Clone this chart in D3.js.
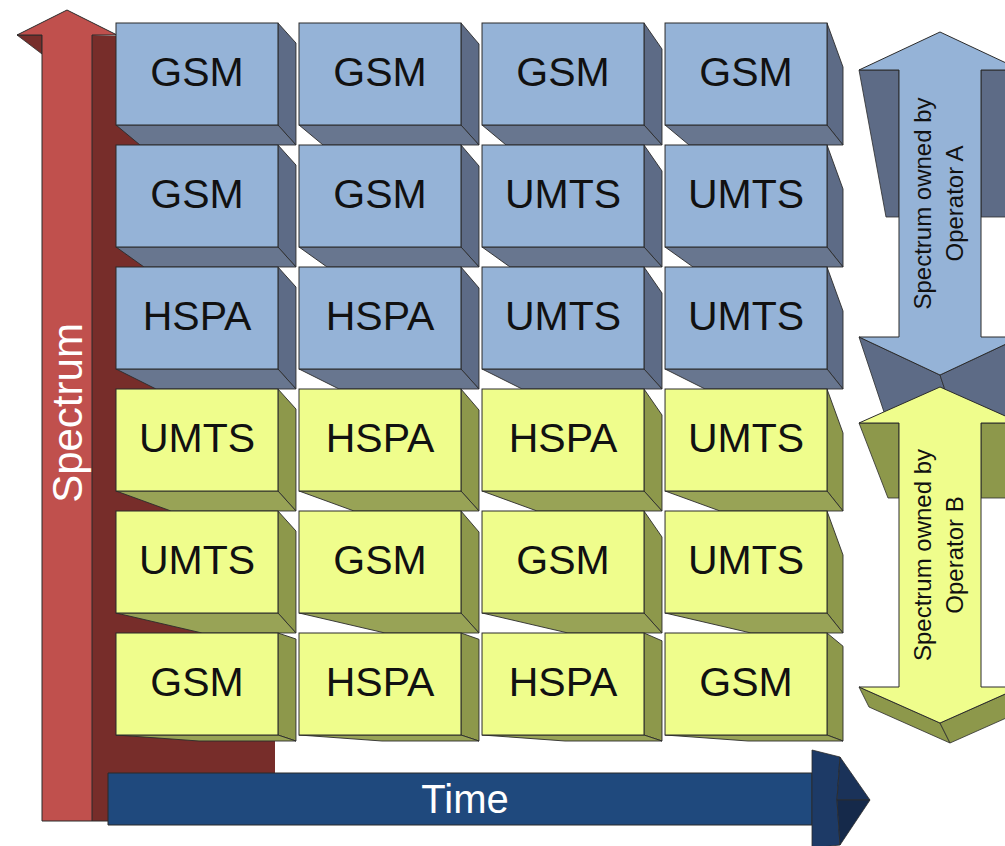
<!DOCTYPE html>
<html>
<head>
<meta charset="utf-8">
<script src="https://cdn.jsdelivr.net/npm/d3@7"></script>
<style>
  body { margin: 0; background: #fff; }
  svg { display: block; }
</style>
</head>
<body>
<svg id="chart" width="1005" height="846"></svg>
<script>
// Data
var timeSlots = ["T1", "T2", "T3", "T4"];
var spectrumBands = ["F1", "F2", "F3", "F4", "F5", "F6"];
var bandOperator = ["A", "A", "A", "B", "B", "B"];
var allocation = [
    ["GSM",  "GSM",  "GSM",  "GSM"],
    ["GSM",  "GSM",  "UMTS", "UMTS"],
    ["HSPA", "HSPA", "UMTS", "UMTS"],
    ["UMTS", "HSPA", "HSPA", "UMTS"],
    ["UMTS", "GSM",  "GSM",  "UMTS"],
    ["GSM",  "HSPA", "HSPA", "GSM"]
];
var operators = ["A", "B"];
var operatorLabels = [["Spectrum owned by", "Operator A"], ["Spectrum owned by", "Operator B"]];
var axisLabels = { spectrum: "Spectrum", time: "Time" };

// Style
var style = {
    font: "'Liberation Sans', Arial, sans-serif",
    stroke: "#2b2b2b",
    gridX: [116, 827],
    gridY: [23, 735],
    // perspective depth of every box, per row / per column
    depthX: [24, 28, 40, 55, 86, 83],
    depthY: [20, 20, 20, 20, 20, 6],
    sideW: [18, 18, 18, 16],
    sideSlope: [1, 1.05, 1.3, 2.2],
    palette: {
        A: { front: "#95b3d7", side: "#5d6b86", bottom: "#68768f" },
        B: { front: "#effd8c", side: "#8d984b", bottom: "#98a356" }
    },
    red: { front: "#c0504d", dark: "#772d2a" },
    blue: { front: "#1f497d", head: "#1d3a66", headTop: "#1a3259", headBottom: "#15294a" },
    opArrow: {
        cx: 940, halfHead: 81, halfShaft: 41,
        A: { top: 32, bottom: 375, head: 38, wingDepth: 147, wingSlant: 27, tail: [25, 75] },
        B: { top: 387, bottom: 723, head: 36, wingDepth: 75, wingSlant: 29, tail: [10, 20] }
    }
};

var svg = d3.select("#chart");

var x = d3.scaleBand().domain(timeSlots).range(style.gridX).paddingInner(0.115).paddingOuter(0);
var y = d3.scaleBand().domain(spectrumBands).range(style.gridY).paddingInner(0.164).paddingOuter(0);

var line = function(pts) { return "M" + pts.map(function(p) { return p.join(","); }).join("L") + "Z"; };

// Spectrum arrow (red, 3D)
var redLayer = svg.append("g");
redLayer.append("path")
    .attr("d", line([[92, 35], [117, 36], [117, 52], [275, 52], [275, 773], [108, 773], [108, 821], [92, 821]]))
    .attr("fill", style.red.dark);
redLayer.append("path")
    .attr("d", line([[17, 35], [42, 35], [42, 54]]))
    .attr("fill", style.red.dark)
    .attr("stroke", style.stroke).attr("stroke-width", 0.8);
redLayer.append("path")
    .attr("d", line([[42, 821], [42, 35], [17, 35], [67, 10], [117, 35], [92, 35], [92, 821]]))
    .attr("fill", style.red.front)
    .attr("stroke", style.stroke).attr("stroke-width", 1);
redLayer.append("line")
    .attr("x1", 92).attr("y1", 821).attr("x2", 108).attr("y2", 821)
    .attr("stroke", style.stroke);
redLayer.append("text")
    .attr("transform", "translate(82,413) rotate(-90)")
    .attr("text-anchor", "middle")
    .attr("font-family", style.font)
    .attr("font-size", 42)
    .attr("fill", "#fff")
    .text(axisLabels.spectrum);

// Cells
var cells = [];
spectrumBands.forEach(function(band, r) {
    timeSlots.forEach(function(slot, c) {
        cells.push({ r: r, c: c, band: band, slot: slot, tech: allocation[r][c], op: bandOperator[r] });
    });
});

var cellGroup = svg.append("g");
var cell = cellGroup.selectAll("g.cell").data(cells).enter().append("g").attr("class", "cell");

function geom(d) {
    var x0 = x(d.slot), x1 = x0 + x.bandwidth();
    var y0 = y(d.band), y1 = y0 + y.bandwidth();
    var sx = style.sideW[d.c], ey = style.depthY[d.r], ex = style.depthX[d.r];
    var sy = Math.min(ey * style.sideSlope[d.c], 48);
    return { x0: x0, x1: x1, y0: y0, y1: y1, sx: sx, ey: ey, ex: ex, sy: sy };
}

cell.append("path")
    .attr("d", function(d) {
        var g = geom(d);
        return line([[g.x1, g.y0], [g.x1 + g.sx, g.y0 + g.sy], [g.x1 + g.sx, g.y1 + g.ey], [g.x1, g.y1]]);
    })
    .attr("fill", function(d) { return style.palette[d.op].side; })
    .attr("stroke", style.stroke).attr("stroke-width", 0.9);

cell.append("path")
    .attr("d", function(d) {
        var g = geom(d);
        return line([[g.x0, g.y1], [g.x1, g.y1], [g.x1 + g.sx, g.y1 + g.ey], [g.x0 + g.ex, g.y1 + g.ey]]);
    })
    .attr("fill", function(d) { return style.palette[d.op].bottom; })
    .attr("stroke", style.stroke).attr("stroke-width", 0.9);

cell.append("rect")
    .attr("x", function(d) { return x(d.slot); })
    .attr("y", function(d) { return y(d.band); })
    .attr("width", x.bandwidth())
    .attr("height", y.bandwidth())
    .attr("fill", function(d) { return style.palette[d.op].front; })
    .attr("stroke", style.stroke).attr("stroke-width", 1);

cell.append("text")
    .attr("x", function(d) { return x(d.slot) + x.bandwidth() / 2; })
    .attr("y", function(d) { return y(d.band) + y.bandwidth() / 2 + 12; })
    .attr("text-anchor", "middle")
    .attr("font-family", style.font)
    .attr("font-size", 41)
    .attr("fill", "#111")
    .text(function(d) { return d.tech; });

// Operator double arrows
var opLayer = svg.append("g");
operators.forEach(function(op, i) {
    var a = style.opArrow, o = a[op], cx = a.cx, col = style.palette[op];
    var hh = a.halfHead, hs = a.halfShaft;
    var baseTop = o.top + o.head, baseBot = o.bottom - o.head;
    var g = opLayer.append("g");

    // extrusion of the lower head
    var t = o.tail;
    g.append("path")
        .attr("d", line([[cx - hh, baseBot], [cx, o.bottom], [cx + t[0], o.bottom + t[1]], [cx - hh + t[0], baseBot + t[1]]]))
        .attr("fill", col.side).attr("stroke", style.stroke).attr("stroke-width", 0.8);
    g.append("path")
        .attr("d", line([[cx, o.bottom], [cx + hh, baseBot], [cx + hh + t[0], baseBot + t[1]], [cx + t[0], o.bottom + t[1]]]))
        .attr("fill", col.side).attr("stroke", style.stroke).attr("stroke-width", 0.8);

    // wing undersides of the upper head
    g.append("path")
        .attr("d", line([[cx - hh, baseTop], [cx - hs, baseTop], [cx - hs, baseTop + o.wingDepth], [cx - hh + o.wingSlant, baseTop + o.wingDepth]]))
        .attr("fill", col.side).attr("stroke", style.stroke).attr("stroke-width", 0.8);
    g.append("path")
        .attr("d", line([[cx + hs, baseTop], [cx + hh, baseTop], [cx + hh, baseTop + o.wingDepth], [cx + hs, baseTop + o.wingDepth]]))
        .attr("fill", col.side).attr("stroke", style.stroke).attr("stroke-width", 0.8);

    g.append("path")
        .attr("d", line([
            [cx, o.top], [cx + hh, baseTop], [cx + hs, baseTop], [cx + hs, baseBot], [cx + hh, baseBot],
            [cx, o.bottom], [cx - hh, baseBot], [cx - hs, baseBot], [cx - hs, baseTop], [cx - hh, baseTop]
        ]))
        .attr("fill", col.front).attr("stroke", style.stroke).attr("stroke-width", 1);

    var midY = (o.top + o.bottom) / 2;
    var txt = g.append("text")
        .attr("transform", "translate(" + cx + "," + midY + ") rotate(-90)")
        .attr("text-anchor", "middle")
        .attr("font-family", style.font)
        .attr("font-size", 24)
        .attr("fill", "#111");
    txt.selectAll("tspan").data(operatorLabels[i]).enter().append("tspan")
        .attr("x", 0)
        .attr("y", function(d, k) { return k === 0 ? -9 : 23; })
        .text(function(d) { return d; });
});

// Time arrow (blue, 3D head)
var timeLayer = svg.append("g");
timeLayer.append("path")
    .attr("d", line([[108, 773], [812, 773], [812, 825], [108, 825]]))
    .attr("fill", style.blue.front).attr("stroke", style.stroke).attr("stroke-width", 1);
timeLayer.append("path")
    .attr("d", line([[812, 750], [840, 757], [837, 800], [840, 845], [812, 848]]))
    .attr("fill", style.blue.head).attr("stroke", style.stroke).attr("stroke-width", 0.8);
timeLayer.append("path")
    .attr("d", line([[840, 757], [870, 800], [837, 800]]))
    .attr("fill", style.blue.headTop).attr("stroke", style.stroke).attr("stroke-width", 0.8);
timeLayer.append("path")
    .attr("d", line([[837, 800], [870, 800], [840, 845]]))
    .attr("fill", style.blue.headBottom).attr("stroke", style.stroke).attr("stroke-width", 0.8);
timeLayer.append("text")
    .attr("x", 465).attr("y", 813)
    .attr("text-anchor", "middle")
    .attr("font-family", style.font)
    .attr("font-size", 40)
    .attr("fill", "#fff")
    .text(axisLabels.time);
</script>
</body>
</html>
